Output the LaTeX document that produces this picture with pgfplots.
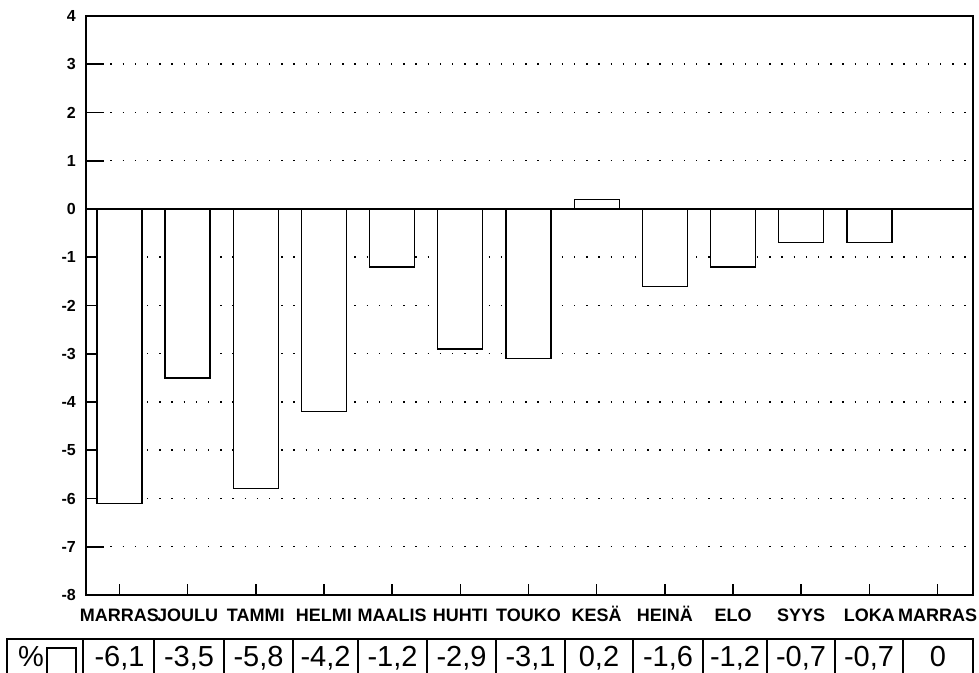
\documentclass[border=0pt]{standalone}
\usepackage{fontspec}
\setmainfont{Liberation Sans}
\usepackage{pgfplots}
\pgfplotsset{compat=1.18}
\newcommand\ylabfont{\fontsize{16bp}{19bp}\selectfont\bfseries}
\begin{document}
\begin{tikzpicture}[x=1bp,y=1bp]
\path[use as bounding box] (0,0) rectangle (979,673);
\begin{axis}[at={(86bp,78bp)}, anchor=south west, scale only axis,
  width=887bp, height=579bp,
  xmin=-0.49, xmax=12.52, ymin=-8, ymax=4,
  xtick=\empty, ytick={-8,-7,-6,-5,-4,-3,-2,-1,0,1,2,3,4},
  yticklabel={\ylabfont\pgfmathprintnumber[assume math mode=true]{\tick}},
  ymajorgrids,
  major grid style={black, line width=1.5bp, dash pattern=on 1.4bp off 10.8bp},
  major tick length=18bp, tick style={black, line width=1.6bp}, tick align=inside,
  ytick pos=left,
  yticklabel style={inner sep=0pt, xshift=-10bp},
  axis line style={line width=1.8bp},
]
\addplot[ybar, bar width=0.66, fill=white, draw=black, line width=1.3bp]
  coordinates {(0,-6.1) (1,-3.5) (2,-5.8) (3,-4.2) (4,-1.2) (5,-2.9) (6,-3.1)
               (7,0.2) (8,-1.6) (9,-1.2) (10,-0.7) (11,-0.7) (12,0)};
\addplot[black, line width=1.6bp] coordinates {(-0.49,0) (12.52,0)};
\end{axis}
\begin{axis}[at={(86bp,78bp)}, anchor=south west, scale only axis,
  width=887bp, height=579bp,
  xmin=-0.49, xmax=12.52, ymin=-8, ymax=4,
  ytick=\empty, xtick={0,1,2,3,4,5,6,7,8,9,10,11,12},
  xticklabels={MARRAS,JOULU,TAMMI,HELMI,MAALIS,HUHTI,TOUKO,KESÄ,HEINÄ,ELO,SYYS,LOKA,MARRAS},
  xtick pos=bottom, major tick length=11bp, tick style={black, line width=1.6bp}, tick align=inside,
  xticklabel style={font=\fontsize{18bp}{21bp}\selectfont\bfseries, inner sep=0pt,
    text height=13bp, text depth=0pt, yshift=-13bp},
  axis line style={line width=1.8bp},
]
\end{axis}
% value table below the chart
\draw[line width=1.6bp] (7,-3) -- (7,34) -- (973,34) -- (973,-3);
\foreach \xb in {83,154,224,293,358,427,496,565,633,703,767,835,903}
  \draw[line width=1.6bp] (\xb,-3) -- (\xb,34);
\draw[line width=1.3bp] (47,-3) -- (47,25) -- (76,25) -- (76,-3);
\begin{scope}[every node/.style={anchor=base, inner sep=0pt, font=\fontsize{29bp}{31bp}\selectfont}]
\node at (31,6) {\%};
\node at (119.5,6) {-6,1};
\node at (189,6) {-3,5};
\node at (258.5,6) {-5,8};
\node at (325.5,6) {-4,2};
\node at (392.5,6) {-1,2};
\node at (461.5,6) {-2,9};
\node at (530.5,6) {-3,1};
\node at (599,6) {0,2};
\node at (668,6) {-1,6};
\node at (735,6) {-1,2};
\node at (801,6) {-0,7};
\node at (869,6) {-0,7};
\node at (938,6) {0};
\end{scope}
\end{tikzpicture}
\end{document}
